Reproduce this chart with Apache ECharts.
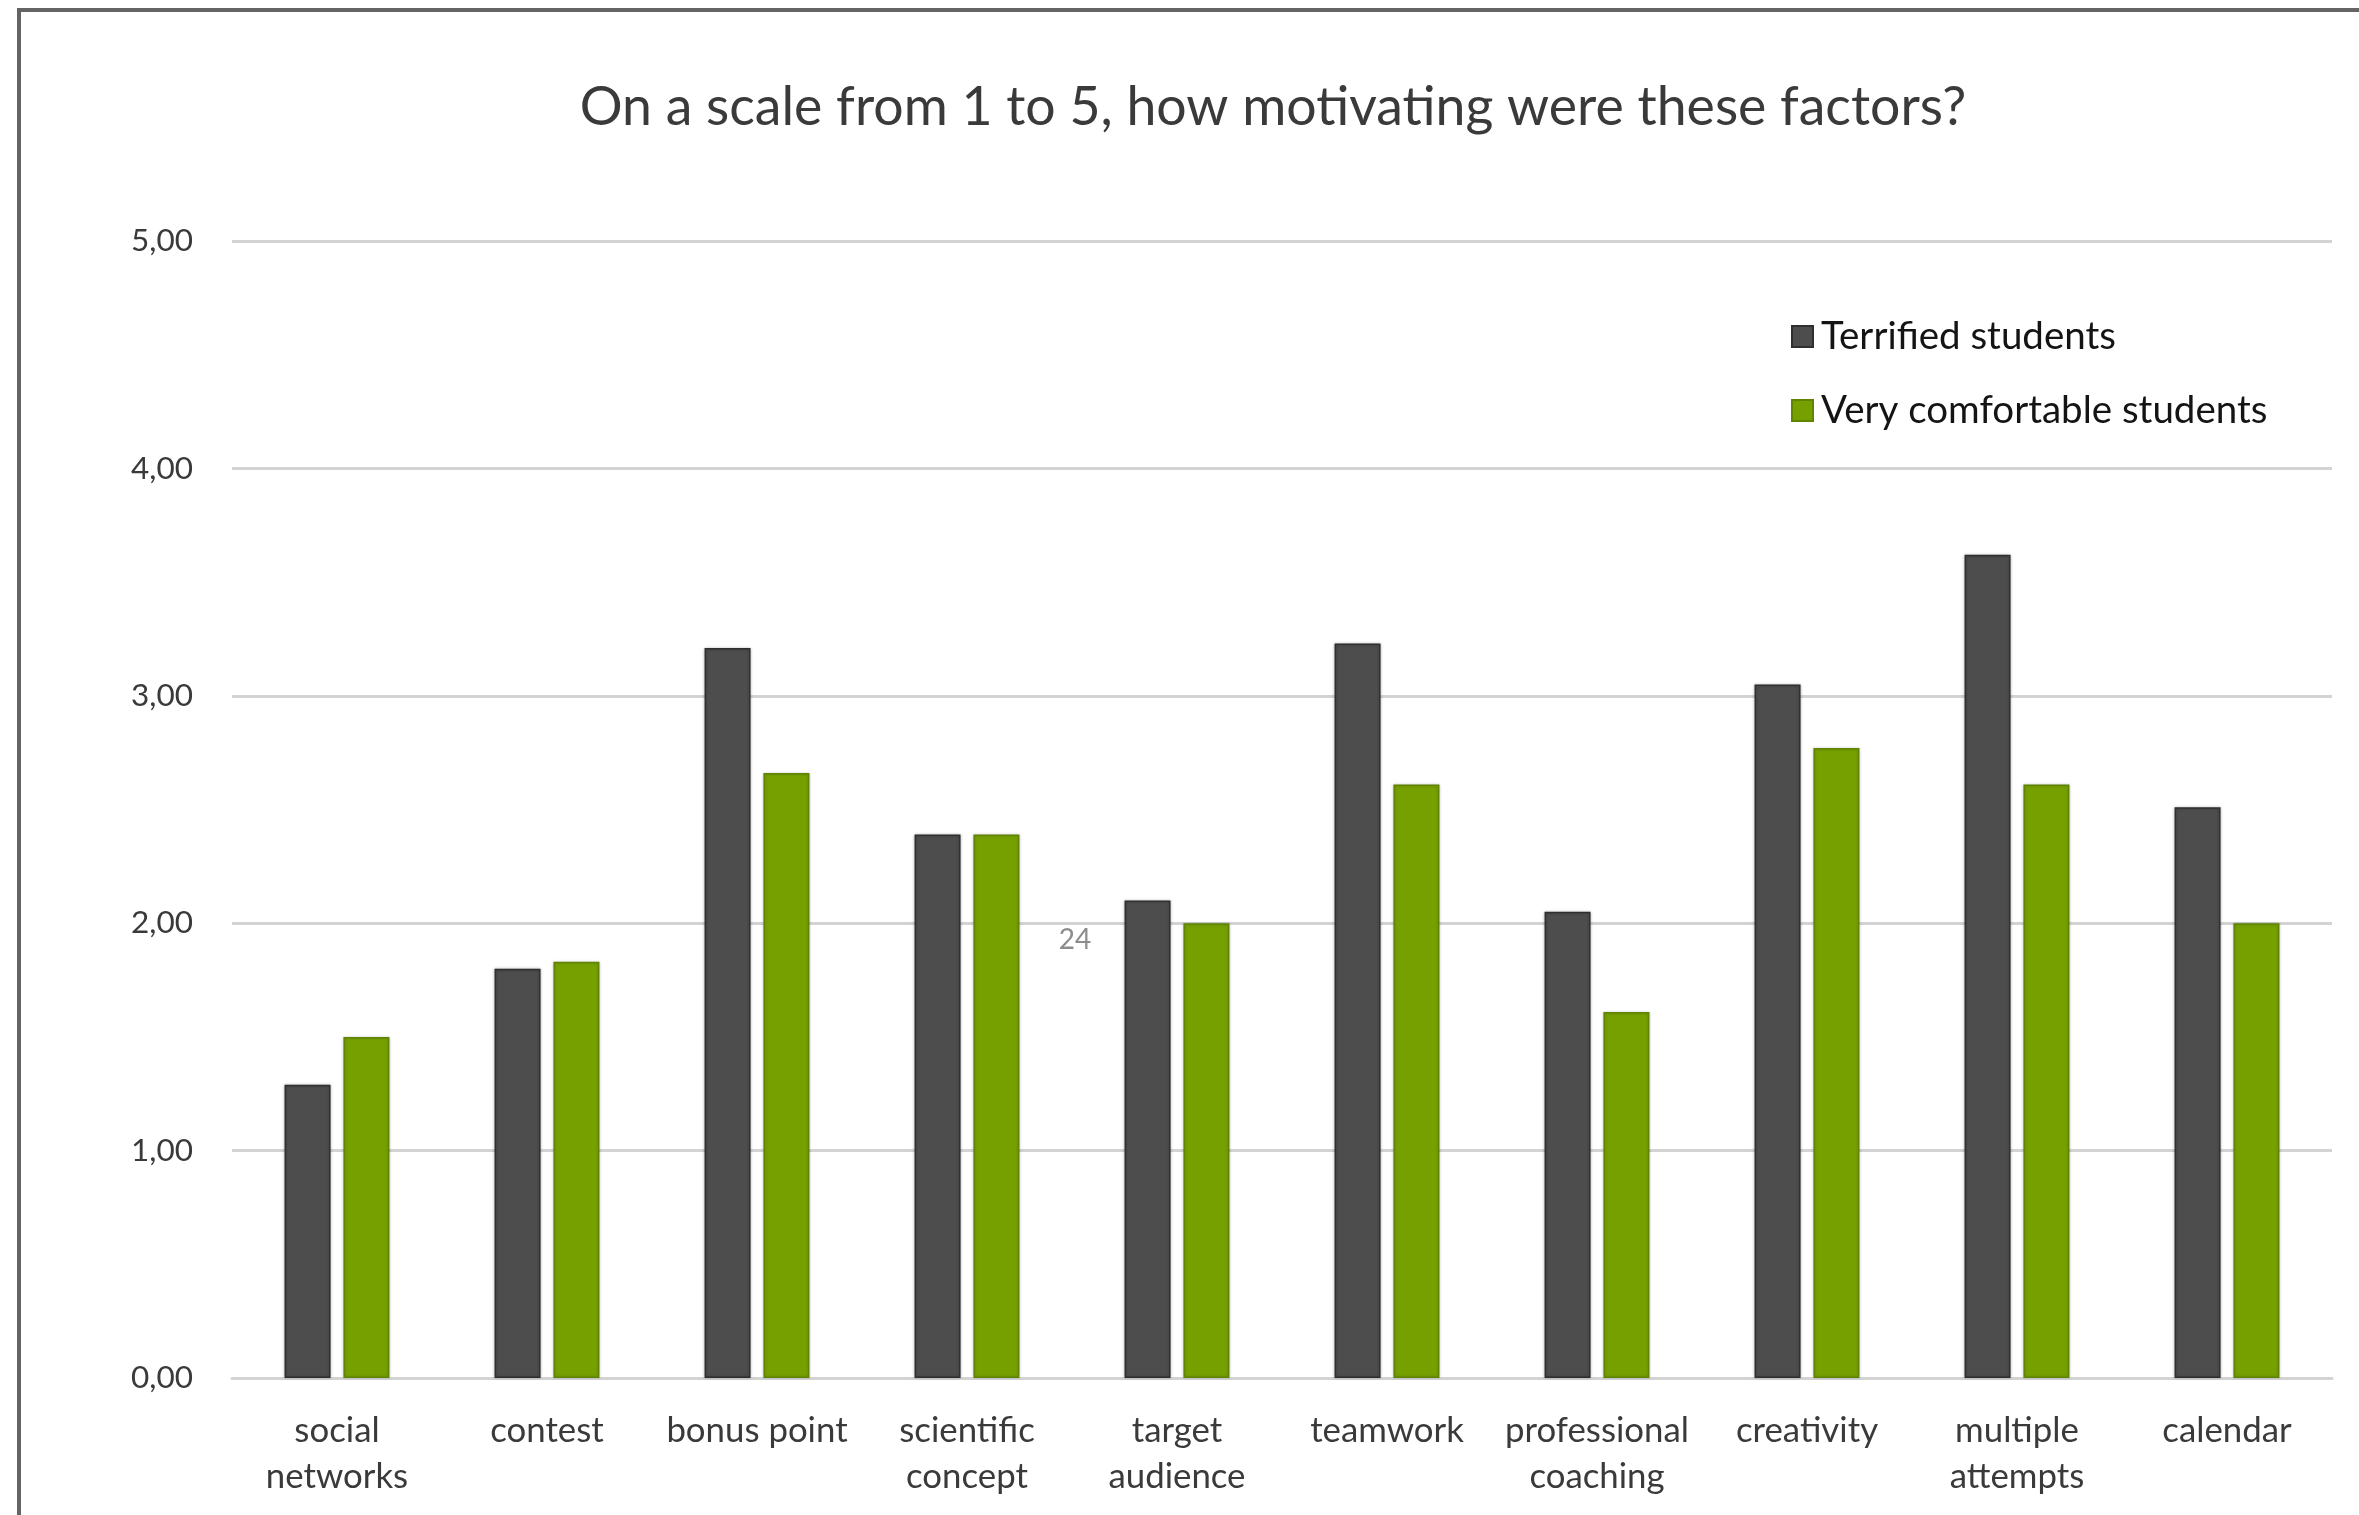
<!DOCTYPE html>
<html>
<head>
<meta charset="utf-8">
<script src="https://cdn.jsdelivr.net/npm/echarts@6/dist/echarts.min.js"></script>
<style>
html,body{margin:0;padding:0;background:#fff;}
#chart{width:2359px;height:1515px;}
</style>
</head>
<body>
<div id="chart"></div>
<script>
const titleText = 'On a scale from 1 to 5, how motivating were these factors?';
const categories = ['social\nnetworks', 'contest', 'bonus point', 'scientific\nconcept', 'target\naudience', 'teamwork', 'professional\ncoaching', 'creativity', 'multiple\nattempts', 'calendar'];
const seriesNames = ['Terrified students', 'Very comfortable students'];
const terrified = [1.29, 1.80, 3.21, 2.39, 2.10, 3.23, 2.05, 3.05, 3.62, 2.51];
const comfortable = [1.50, 1.83, 2.66, 2.39, 2.00, 2.61, 1.61, 2.77, 2.61, 2.00];
const yTickLabels = ['0,00', '1,00', '2,00', '3,00', '4,00', '5,00'];
const pageNumber = '24';

const FONT = 'Lato';
const ctx = document.createElement('canvas').getContext('2d');
function fit(text, target) {
  ctx.font = 'normal 100px ' + FONT;
  return Math.round(100 * target / ctx.measureText(text).width * 10) / 10;
}
const titleSize = fit(titleText, 1387);
const legendSize = fit('Terrified students', 295);
const xLabelSize = fit('professional', 184);
const yLabelSize = fit('5,00', 62);

const chart = echarts.init(document.getElementById('chart'), null, {renderer: 'canvas'});
const option = {
  animation: false,
  backgroundColor: '#ffffff',
  textStyle: {fontFamily: FONT},
  title: {
    text: titleText,
    left: 1273,
    top: 108,
    textAlign: 'center',
    textVerticalAlign: 'middle',
    padding: 0,
    textStyle: {fontFamily: FONT, fontSize: titleSize, fontWeight: 'normal', color: '#3a3a3a'}
  },
  legend: {
    orient: 'vertical',
    left: 1786,
    top: 312,
    itemWidth: 21,
    itemHeight: 21,
    itemGap: 35,
    icon: 'rect',
    data: seriesNames,
    textStyle: {fontFamily: FONT, fontSize: legendSize, color: '#141414', lineHeight: 36, padding: [0, 0, 0, 3]}
  },
  grid: {left: 232, right: 27, top: 241, bottom: 137, containLabel: false},
  xAxis: {
    type: 'category',
    data: categories,
    axisLine: {show: true, lineStyle: {color: '#d3d3d3', width: 3}},
    axisTick: {show: false},
    axisLabel: {
      interval: 0,
      margin: 30,
      fontFamily: FONT,
      fontSize: xLabelSize,
      lineHeight: 46,
      color: '#3a3a3a'
    }
  },
  yAxis: {
    type: 'value',
    min: 0,
    max: 5,
    interval: 1,
    axisLine: {show: false},
    axisTick: {show: false},
    splitLine: {lineStyle: {color: '#d3d3d3', width: 3}},
    axisLabel: {
      margin: 39,
      fontFamily: FONT,
      fontSize: yLabelSize,
      color: '#3a3a3a',
      formatter: function (v) { return yTickLabels[Math.round(v)]; }
    }
  },
  series: [
    {
      name: seriesNames[0],
      type: 'bar',
      data: terrified,
      barWidth: 46,
      barGap: '28%',
      itemStyle: {color: '#4d4d4d', borderColor: '#2f2f2f', borderWidth: 1.5, shadowColor: 'rgba(0,0,0,0.25)', shadowBlur: 3}
    },
    {
      name: seriesNames[1],
      type: 'bar',
      data: comfortable,
      barWidth: 46,
      barGap: '28%',
      itemStyle: {color: '#76a000', borderColor: '#5e8400', borderWidth: 1.5, shadowColor: 'rgba(0,0,0,0.2)', shadowBlur: 3}
    }
  ],
  graphic: [
    {
      type: 'rect',
      silent: true,
      shape: {x: 19, y: 10, width: 2400, height: 1600},
      style: {fill: 'none', stroke: '#646464', lineWidth: 4}
    },
    {
      type: 'text',
      silent: true,
      x: 1075,
      y: 940,
      style: {text: pageNumber, fontFamily: FONT, fontSize: 28, fill: '#8c8c8c', align: 'center', verticalAlign: 'middle'}
    }
  ]
};
chart.setOption(option);
</script>
</body>
</html>
